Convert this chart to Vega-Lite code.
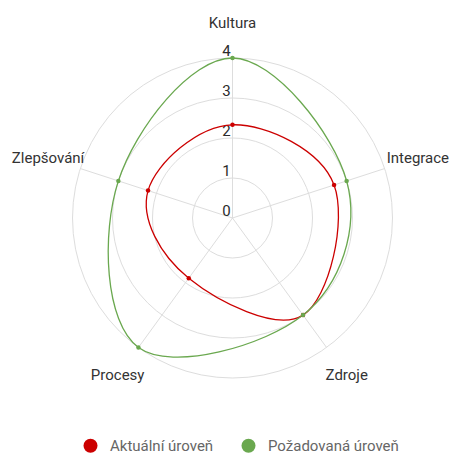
{
  "$schema": "https://vega.github.io/schema/vega-lite/v6.json",
  "width": 452,
  "height": 457,
  "autosize": {"type": "none"},
  "padding": 0,
  "background": "white",
  "config": {"view": {"stroke": null}, "font": "Roboto"},
  "datasets": {
    "axes": [
      {"axis": "Kultura", "order": 0},
      {"axis": "Integrace", "order": 1},
      {"axis": "Zdroje", "order": 2},
      {"axis": "Procesy", "order": 3},
      {"axis": "Zlepšování", "order": 4}
    ],
    "levels": [{"level": 0}, {"level": 1}, {"level": 2}, {"level": 3}, {"level": 4}],
    "scores": [
      {"axis": "Kultura", "order": 0, "series": "Aktuální úroveň", "value": 2.33},
      {"axis": "Integrace", "order": 1, "series": "Aktuální úroveň", "value": 2.67},
      {"axis": "Zdroje", "order": 2, "series": "Aktuální úroveň", "value": 3.0},
      {"axis": "Procesy", "order": 3, "series": "Aktuální úroveň", "value": 1.86},
      {"axis": "Zlepšování", "order": 4, "series": "Aktuální úroveň", "value": 2.22},
      {"axis": "Kultura", "order": 0, "series": "Požadovaná úroveň", "value": 4.0},
      {"axis": "Integrace", "order": 1, "series": "Požadovaná úroveň", "value": 3.0},
      {"axis": "Zdroje", "order": 2, "series": "Požadovaná úroveň", "value": 3.0},
      {"axis": "Procesy", "order": 3, "series": "Požadovaná úroveň", "value": 4.0},
      {"axis": "Zlepšování", "order": 4, "series": "Požadovaná úroveň", "value": 3.0}
    ]
  },
  "layer": [
    {
      "data": {"name": "levels"},
      "transform": [{"filter": "datum.level > 0"}],
      "mark": {"type": "point", "shape": "circle", "filled": false, "stroke": "#dddddd", "strokeWidth": 1, "opacity": 1},
      "encoding": {
        "x": {"datum": 0, "type": "quantitative", "scale": {"domain": [-5.8125, 5.4875], "nice": false, "zero": false}, "axis": null},
        "y": {"datum": 0, "type": "quantitative", "scale": {"domain": [-5.975, 5.45], "nice": false, "zero": false}, "axis": null},
        "size": {"field": "level", "type": "quantitative", "scale": {"type": "pow", "exponent": 2, "domain": [0, 4], "range": [0, 102400]}, "legend": null}
      }
    },
    {
      "data": {"name": "axes"},
      "transform": [
        {"calculate": "PI/2 - datum.order*2*PI/5", "as": "angle"},
        {"calculate": "4*cos(datum.angle)", "as": "xe"},
        {"calculate": "4*sin(datum.angle)", "as": "ye"}
      ],
      "mark": {"type": "rule", "stroke": "#dddddd", "strokeWidth": 1},
      "encoding": {
        "x": {"field": "xe", "type": "quantitative"},
        "y": {"field": "ye", "type": "quantitative"},
        "x2": {"datum": 0},
        "y2": {"datum": 0}
      }
    },
    {
      "data": {"name": "levels"},
      "mark": {"type": "text", "fontSize": 15, "color": "#2b2b2b", "align": "center", "baseline": "alphabetic", "dx": -6, "dy": -2.5},
      "encoding": {
        "x": {"datum": 0, "type": "quantitative"},
        "y": {"field": "level", "type": "quantitative"},
        "text": {"field": "level", "type": "quantitative"}
      }
    },
    {
      "data": {"name": "scores"},
      "transform": [
        {"calculate": "PI/2 - datum.order*2*PI/5", "as": "angle"},
        {"calculate": "datum.value*cos(datum.angle)", "as": "px"},
        {"calculate": "datum.value*sin(datum.angle)", "as": "py"}
      ],
      "mark": {"type": "line", "interpolate": "cardinal-closed", "tension": -0.1, "strokeWidth": 1.3},
      "encoding": {
        "x": {"field": "px", "type": "quantitative"},
        "y": {"field": "py", "type": "quantitative"},
        "order": {"field": "order", "type": "quantitative"},
        "color": {"field": "series", "type": "nominal",
          "scale": {"domain": ["Aktuální úroveň", "Požadovaná úroveň"], "range": ["#cc0000", "#6aa84f"]},
          "legend": {"orient": "none", "legendX": 83, "legendY": 438, "direction": "horizontal", "title": null,
            "symbolType": "circle", "symbolSize": 196, "symbolStrokeWidth": 0, "symbolOpacity": 1, "labelFontSize": 15, "labelColor": "#666666", "labelFont": "Roboto", "columnPadding": 27, "labelOffset": 12}}
      }
    },
    {
      "data": {"name": "scores"},
      "transform": [
        {"calculate": "PI/2 - datum.order*2*PI/5", "as": "angle"},
        {"calculate": "datum.value*cos(datum.angle)", "as": "px"},
        {"calculate": "datum.value*sin(datum.angle)", "as": "py"}
      ],
      "mark": {"type": "point", "shape": "circle", "filled": true, "size": 20, "opacity": 1},
      "encoding": {
        "x": {"field": "px", "type": "quantitative"},
        "y": {"field": "py", "type": "quantitative"},
        "color": {"field": "series", "type": "nominal",
          "legend": {"orient": "none", "legendX": 83, "legendY": 438, "direction": "horizontal", "title": null,
            "symbolType": "circle", "symbolSize": 196, "symbolStrokeWidth": 0, "symbolOpacity": 1, "labelFontSize": 15, "labelColor": "#666666", "labelFont": "Roboto", "columnPadding": 27, "labelOffset": 12}}
      }
    },
    {
      "data": {"name": "axes"},
      "transform": [
        {"calculate": "PI/2 - datum.order*2*PI/5", "as": "angle"},
        {"calculate": "4*cos(datum.angle)", "as": "xe"},
        {"calculate": "4*sin(datum.angle)", "as": "ye"},
        {"filter": "datum.axis == 'Kultura'"}
      ],
      "mark": {"type": "text", "fontSize": 15, "color": "#333333", "align": "center", "baseline": "middle", "dy": -35},
      "encoding": {"x": {"field": "xe", "type": "quantitative"}, "y": {"field": "ye", "type": "quantitative"}, "text": {"field": "axis", "type": "nominal"}}
    },
    {
      "data": {"name": "axes"},
      "transform": [
        {"calculate": "PI/2 - datum.order*2*PI/5", "as": "angle"},
        {"calculate": "4*cos(datum.angle)", "as": "xe"},
        {"calculate": "4*sin(datum.angle)", "as": "ye"},
        {"filter": "datum.axis == 'Integrace'"}
      ],
      "mark": {"type": "text", "fontSize": 15, "color": "#333333", "align": "left", "baseline": "middle", "dx": 2, "dy": -11},
      "encoding": {"x": {"field": "xe", "type": "quantitative"}, "y": {"field": "ye", "type": "quantitative"}, "text": {"field": "axis", "type": "nominal"}}
    },
    {
      "data": {"name": "axes"},
      "transform": [
        {"calculate": "PI/2 - datum.order*2*PI/5", "as": "angle"},
        {"calculate": "4*cos(datum.angle)", "as": "xe"},
        {"calculate": "4*sin(datum.angle)", "as": "ye"},
        {"filter": "datum.axis == 'Zlepšování'"}
      ],
      "mark": {"type": "text", "fontSize": 15, "color": "#333333", "align": "right", "baseline": "middle", "dx": 4, "dy": -11},
      "encoding": {"x": {"field": "xe", "type": "quantitative"}, "y": {"field": "ye", "type": "quantitative"}, "text": {"field": "axis", "type": "nominal"}}
    },
    {
      "data": {"name": "axes"},
      "transform": [
        {"calculate": "PI/2 - datum.order*2*PI/5", "as": "angle"},
        {"calculate": "4*cos(datum.angle)", "as": "xe"},
        {"calculate": "4*sin(datum.angle)", "as": "ye"},
        {"filter": "datum.axis == 'Zdroje'"}
      ],
      "mark": {"type": "text", "fontSize": 15, "color": "#333333", "align": "left", "baseline": "middle", "dx": -1, "dy": 28},
      "encoding": {"x": {"field": "xe", "type": "quantitative"}, "y": {"field": "ye", "type": "quantitative"}, "text": {"field": "axis", "type": "nominal"}}
    },
    {
      "data": {"name": "axes"},
      "transform": [
        {"calculate": "PI/2 - datum.order*2*PI/5", "as": "angle"},
        {"calculate": "4*cos(datum.angle)", "as": "xe"},
        {"calculate": "4*sin(datum.angle)", "as": "ye"},
        {"filter": "datum.axis == 'Procesy'"}
      ],
      "mark": {"type": "text", "fontSize": 15, "color": "#333333", "align": "right", "baseline": "middle", "dx": 6, "dy": 28},
      "encoding": {"x": {"field": "xe", "type": "quantitative"}, "y": {"field": "ye", "type": "quantitative"}, "text": {"field": "axis", "type": "nominal"}}
    }
  ]
}
